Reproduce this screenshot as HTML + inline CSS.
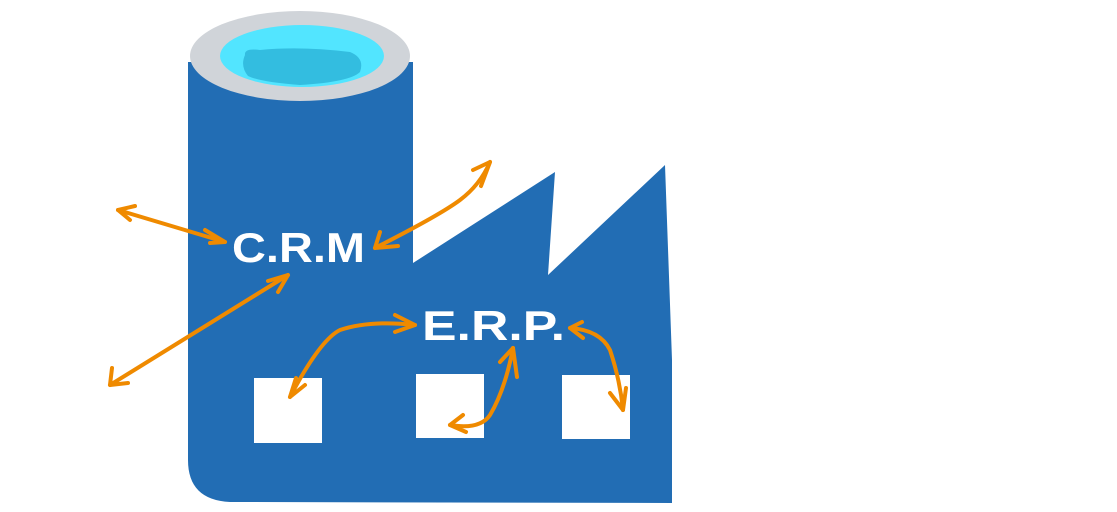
<!DOCTYPE html>
<html><head><meta charset="utf-8"><style>
html,body{margin:0;padding:0;background:#fff;width:1117px;height:512px;overflow:hidden}
svg{display:block}
text{font-family:"Liberation Sans",sans-serif;font-weight:bold;fill:#fff}
</style></head><body>
<svg width="1117" height="512" viewBox="0 0 1117 512">
<path d="M188,62 L413,62 L413,263 L555,172 L548,275 L665,165 L672,360 L672,503 L230,502 Q188,500 188,460 Z" fill="#226db4"/>
<ellipse cx="300" cy="56" rx="110" ry="45" fill="#d0d4d9"/>
<ellipse cx="302" cy="56" rx="82" ry="31" fill="#52e5ff"/>
<path d="M245,55 Q244,48 260,50 Q300,46 350,52 Q365,58 360,72 Q350,82 300,85 Q260,82 248,76 Q240,66 245,55 Z" fill="#33bde0"/>
<rect x="254" y="378" width="68" height="65" fill="#fff"/>
<rect x="416" y="374" width="68" height="64" fill="#fff"/>
<rect x="562" y="375" width="68" height="64" fill="#fff"/>
<text x="232" y="262" font-size="42" textLength="133" lengthAdjust="spacingAndGlyphs">C.R.M</text>
<text x="422" y="340" font-size="42" textLength="143" lengthAdjust="spacingAndGlyphs">E.R.P.</text>
<g fill="none" stroke="#ef8a00" stroke-width="4" stroke-linecap="round" stroke-linejoin="round">
<path d="M118,210 L225,242"/><path d="M135,206 L118,210 L130,220"/><path d="M205,230 L225,242 L210,243"/>
<path d="M110,385 L288,275"/><path d="M112,368 L110,385 L128,383"/><path d="M268,281 L288,275 L278,292"/>
<path d="M375,248 Q440,215 460,200 Q480,185 490,162"/><path d="M380,232 L375,248 L398,246"/><path d="M473,170 L490,162 L481,186"/>
<path d="M290,397 Q320,340 340,330 Q370,320 415,325"/><path d="M296,378 L290,397 L305,385"/><path d="M395,315 L415,325 L395,332"/>
<path d="M450,425 Q480,430 490,415 Q505,390 513,348"/><path d="M463,415 L450,425 L466,432"/><path d="M500,362 L513,348 L517,377"/>
<path d="M570,328 Q600,330 610,350 Q620,380 623,410"/><path d="M582,322 L570,328 L583,338"/><path d="M610,393 L623,410 L626,388"/>
</g>
</svg>
</body></html>
